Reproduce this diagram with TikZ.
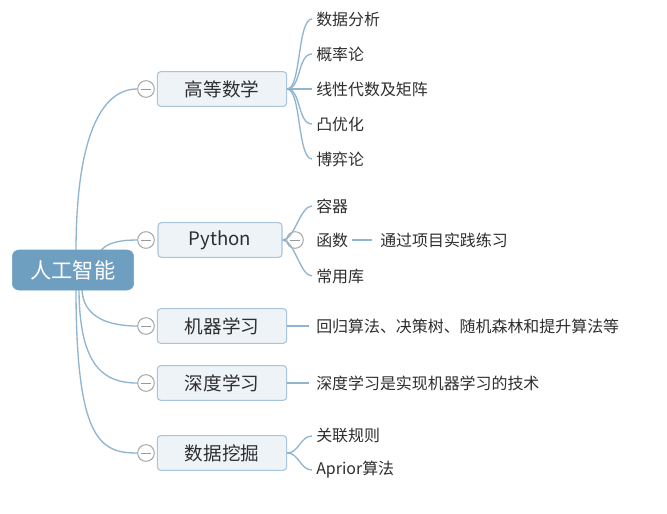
\documentclass[tikz,border=0pt]{standalone}
\usepackage{fontspec}
\setmainfont{Noto Sans CJK SC}
\definecolor{rootfill}{HTML}{6F9FC0}
\definecolor{boxfill}{HTML}{EEF3F8}
\definecolor{boxline}{HTML}{A9C5DC}
\definecolor{conn}{HTML}{90B5D1}
\definecolor{txt}{HTML}{2E2E2E}
\tikzset{
  rootbox/.style={draw=rootfill, fill=rootfill, rounded corners=5pt, minimum width=91bp, minimum height=30bp, text=white, font=\fontsize{16}{16}\selectfont},
  topic/.style={draw=boxline, fill=boxfill, rounded corners=2.5pt, minimum width=97bp, minimum height=26bp, line width=0.8pt, text=txt, font=\fontsize{14}{14}\selectfont},
  leaf/.style={anchor=west, inner sep=0pt, text=txt, font=\fontsize{12}{12}\selectfont},
  fold/.style={circle, draw=gray!70, fill=white, line width=0.75pt, minimum size=12.5bp, inner sep=0pt,
    path picture={\draw[gray!80, line width=0.75pt] ([xshift=2.5bp]path picture bounding box.west) -- ([xshift=-2.5bp]path picture bounding box.east);}},
  link/.style={draw=conn, line width=1pt},
}
\begin{document}
\begin{tikzpicture}[x=0.75bp, y=-0.75bp]
\useasboundingbox (0,0) rectangle (667,514);
\fill[white] (0,0) rectangle (667,514);

% root connectors (drawn first, under the root)
\coordinate (r1) at (76,252);
\coordinate (r2) at (100,252);
\coordinate (r3) at (82,288);
\coordinate (r4) at (79,288);
\coordinate (r5) at (76,288);

% fold circles
\node[fold] (fa) at (146,89) {};
\node[fold] (fp) at (146,240) {};
\node[fold] (fm) at (146,326) {};
\node[fold] (fd) at (146,383) {};
\node[fold] (fs) at (146,453) {};

\draw[link] (r1) .. controls (76,140) and (100,89) .. (fa.west);
\draw[link] (r2) .. controls (106,242) and (122,240) .. (fp.west);
\draw[link] (r3) .. controls (82,318) and (110,326) .. (fm.west);
\draw[link] (r4) .. controls (79,368) and (105,383) .. (fd.west);
\draw[link] (r5) .. controls (76,440) and (100,453) .. (fs.west);

\node[rootbox] (root) at (73,270) {人工智能};

% level-1 topics
\node[topic] (a) at (222,89) {高等数学};
\node[topic, minimum width=93bp] (p) at (220,240) {Python};
\node[topic] (m) at (222,326) {机器学习};
\node[topic] (d) at (222,383) {深度学习};
\node[topic] (s) at (222,453) {数据挖掘};

% 高等数学 children
\node[leaf] (a1) at (316,19) {数据分析};
\node[leaf] (a2) at (316,54) {概率论};
\node[leaf] (a3) at (316,89) {线性代数及矩阵};
\node[leaf] (a4) at (316,124) {凸优化};
\node[leaf] (a5) at (316,159) {博弈论};
\foreach \c in {a1,a2,a3,a4,a5}{
  \draw[link] (a.east) .. controls +(14,0) and ([xshift=-14]\c.west) .. ([xshift=-3]\c.west);
}

% Python children
\node[fold] (ff) at (295,240) {};
\node[leaf] (p1) at (316,206) {容器};
\node[leaf] (p2) at (316,240) {函数};
\node[leaf] (p3) at (316,276) {常用库};
\draw[link] (p.east) .. controls +(12,0) and ([xshift=-12]p1.west) .. ([xshift=-3]p1.west);
\draw[link] (p.east) .. controls +(12,0) and ([xshift=-12]p3.west) .. ([xshift=-3]p3.west);
\draw[link] (p.east) -- (ff.west);
\node[leaf] (p21) at (380,240) {通过项目实践练习};
\draw[link] ([xshift=3]p2.east) -- ([xshift=-6]p21.west);

% 机器学习 child
\node[leaf] (m1) at (316,326) {回归算法、决策树、随机森林和提升算法等};
\draw[link] (m.east) -- ([xshift=-5]m1.west);

% 深度学习 child
\node[leaf] (d1) at (316,383) {深度学习是实现机器学习的技术};
\draw[link] (d.east) -- ([xshift=-5]d1.west);

% 数据挖掘 children
\node[leaf] (s1) at (316,436) {关联规则};
\node[leaf] (s2) at (316,470) {Aprior算法};
\foreach \c in {s1,s2}{
  \draw[link] (s.east) .. controls +(12,0) and ([xshift=-12]\c.west) .. ([xshift=-3]\c.west);
}
\end{tikzpicture}
\end{document}
